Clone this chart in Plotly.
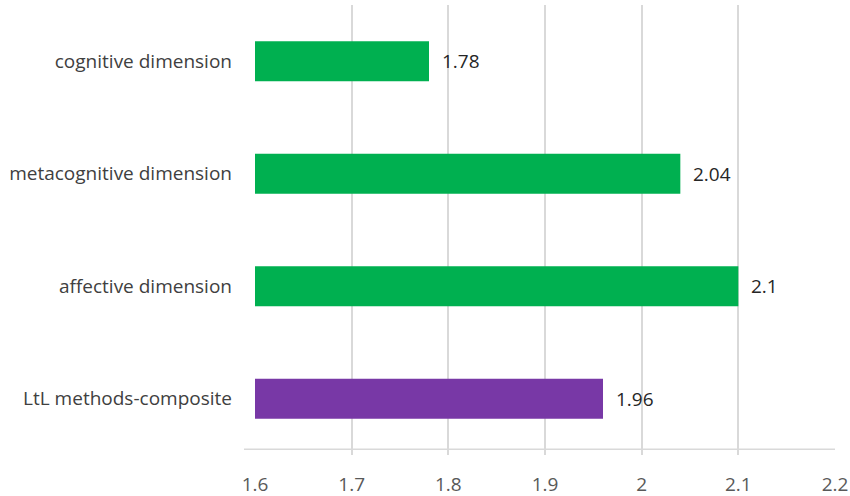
import plotly.graph_objects as go

categories = ["cognitive dimension", "metacognitive dimension", "affective dimension", "LtL methods-composite"]
values = [1.78, 2.04, 2.10, 1.96]
value_labels = ["1.78", "2.04", "2.1", "1.96"]
colors = ["#00B050", "#00B050", "#00B050", "#7838A6"]
x_ticks = [1.6, 1.7, 1.8, 1.9, 2.0, 2.1, 2.2]
x_tick_text = ["1.6", "1.7", "1.8", "1.9", "2", "2.1", "2.2"]

FONT = "'Open Sans', Lato, sans-serif"

fig = go.Figure()
fig.add_trace(go.Bar(
    y=categories,
    x=[v - 1.6 for v in values],
    base=1.6,
    orientation="h",
    marker=dict(color=colors, line=dict(width=0)),
    width=0.356,
    hoverinfo="skip",
))

annotations = []
for c, v, t in zip(categories, values, value_labels):
    annotations.append(dict(
        x=v, y=c, xref="x", yref="y", text=t, showarrow=False,
        xanchor="left", xshift=11, font=dict(family=FONT, size=19, color="#262626"),
    ))

H = 496
top = 5.3
bottom = 455
fig.update_layout(
    width=850, height=H,
    margin=dict(l=255, r=15, t=top, b=H - bottom, pad=0, autoexpand=False),
    paper_bgcolor="white", plot_bgcolor="white",
    showlegend=False,
    annotations=annotations,
    xaxis=dict(
        range=[1.6, 2.2], tickvals=x_ticks, ticktext=x_tick_text,
        showgrid=True, gridcolor="#d9d9d9", gridwidth=1.5,
        zeroline=False, showline=False, ticks="", automargin=False,
        tickfont=dict(family=FONT, size=19, color="#595959"),
        ticklabelstandoff=16,
    ),
    yaxis=dict(
        categoryorder="array", categoryarray=categories, autorange="reversed",
        showgrid=False, zeroline=False, showline=False, ticks="", automargin=False,
        tickfont=dict(family=FONT, size=19, color="#404040"),
        ticklabelstandoff=22,
    ),
    shapes=[dict(
        type="line", xref="paper", yref="paper",
        x0=(244 - 255) / (835 - 255), x1=1.0,
        y0=(bottom - 449.3) / (bottom - top), y1=(bottom - 449.3) / (bottom - top),
        line=dict(color="#d9d9d9", width=1.5),
    )],
)

fig.write_html("out.html")
